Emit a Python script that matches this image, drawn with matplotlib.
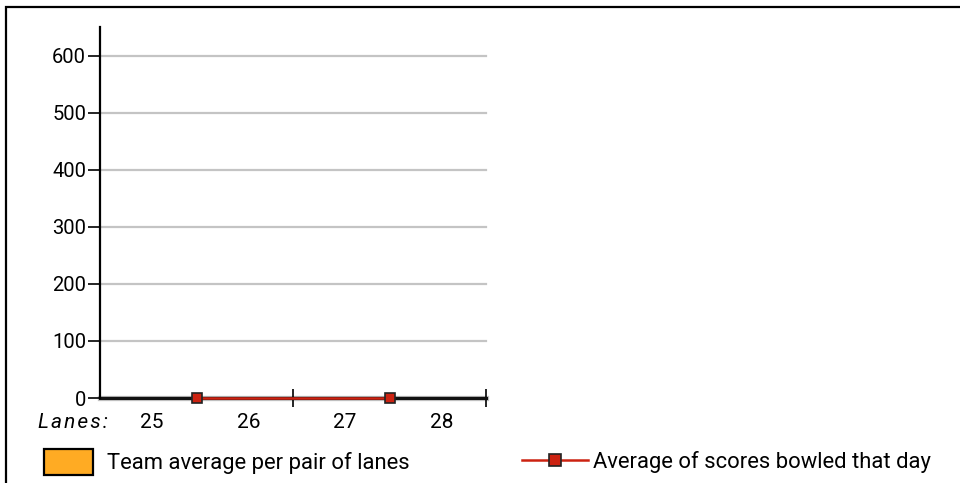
import numpy as np
import matplotlib.pyplot as plt
from matplotlib.patches import Rectangle

plt.rcParams['font.family'] = ['Roboto', 'DejaVu Sans']

# lanes and pair data
lanes = ['25', '26', '27', '28']
pair_pos = [0.5, 2.5]
team_avg = [0, 0]
day_avg = [0, 0]
y_ticks = [0, 100, 200, 300, 400, 500, 600]

W, H = 960, 483
fig = plt.figure(figsize=(W / 100, H / 100), dpi=100)

# outer frame, only top and left edges show
fig.patches.append(Rectangle((6 / W, -0.1), 1.2, 1 - 7 / H + 0.1,
                             transform=fig.transFigure, fill=False,
                             edgecolor='black', linewidth=1.6))

ax = fig.add_axes([100 / W, (H - 398) / H, 386 / W, 371 / H])
ax.set_xlim(-0.5, 3.5)
ax.set_ylim(0, 650)

for v in y_ticks:
    ax.axhline(v, color='#c4c4c4', linewidth=3.8 if v == 0 else 1.6,
               zorder=1, clip_on=False)

bars = ax.bar(pair_pos, team_avg, width=2, color='#ffab23',
              edgecolor='black', linewidth=1.6, zorder=2,
              label='Team average per pair of lanes')
# the empty bars collapse to a dark baseline
ax.axhline(0, color='#111111', linewidth=2.2, zorder=2, clip_on=False)
line, = ax.plot(pair_pos, day_avg, color='#cc2211', linewidth=1.8,
                marker='s', markersize=6.5, markerfacecolor='#cc2211',
                markeredgecolor='#222222', markeredgewidth=1.2, zorder=4,
                label='Average of scores bowled that day', clip_on=False)

for s in ['top', 'right', 'bottom']:
    ax.spines[s].set_visible(False)
ax.spines['left'].set_linewidth(1.6)

ax.set_yticks(y_ticks)
ax.tick_params(axis='y', length=9, width=1.2, pad=1, labelsize=14.5)

ax.set_xticks([1.5, 3.5])
ax.set_xticklabels([])
ax.tick_params(axis='x', direction='inout', length=13, width=1.2)

for i, lab in enumerate(lanes):
    ax.text(i + 0.04, -0.065, lab, transform=ax.get_xaxis_transform(),
            ha='center', va='center', fontsize=15)
ax.text(-0.78, -0.065, '\u200a'.join('Lanes:'),
        transform=ax.get_xaxis_transform(),
        ha='center', va='center', fontsize=15, style='italic')

leg1 = fig.legend(handles=[bars], loc='center left',
                  bbox_to_anchor=(44 / W, 1 - 462 / H), frameon=False,
                  borderpad=0, borderaxespad=0, handlelength=2.25,
                  handleheight=1.45, handletextpad=0.62, fontsize=15.8)
leg2 = fig.legend(handles=[line], loc='center left',
                  bbox_to_anchor=(522 / W, 1 - 462 / H), frameon=False,
                  borderpad=0, borderaxespad=0, handlelength=3.0,
                  handletextpad=0.25, markerscale=1.4, fontsize=15.8)

fig.savefig('out.png', dpi=100)
